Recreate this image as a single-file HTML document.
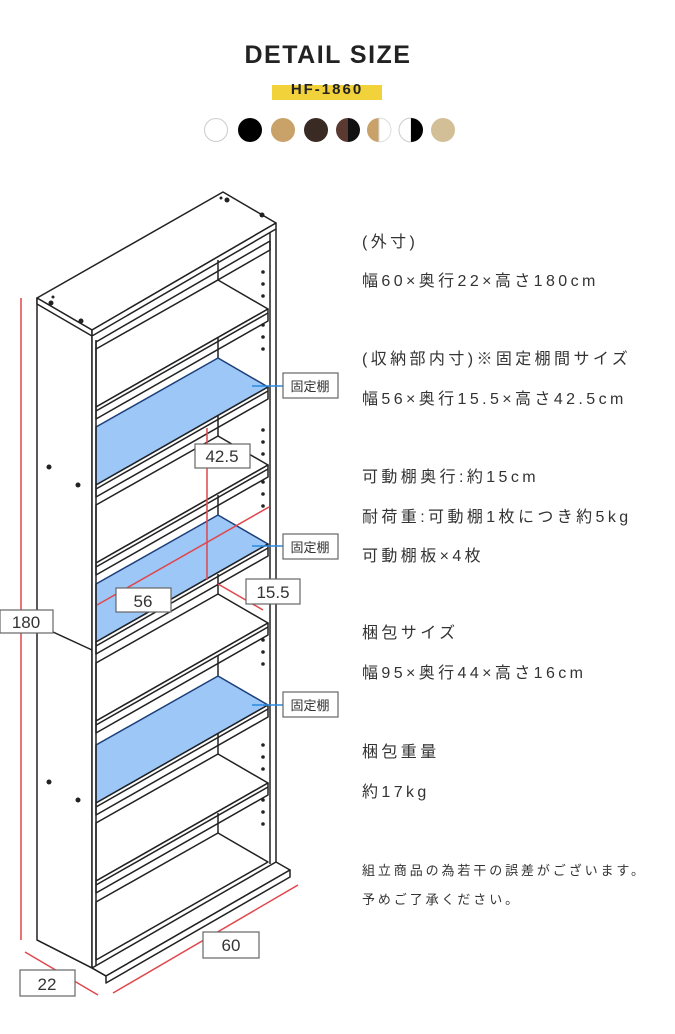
<!DOCTYPE html>
<html><head><meta charset="utf-8">
<style>
html,body{margin:0;padding:0;background:#fff;}
body{width:675px;height:1034px;position:relative;overflow:hidden;font-family:"Liberation Sans","Noto Sans CJK JP",sans-serif;color:#333;}
.t{position:absolute;left:362px;font-size:16px;line-height:20px;white-space:nowrap;letter-spacing:3.4px;}
.s{font-size:13px;letter-spacing:2.9px;}
</style></head><body>
<div style="position:absolute;left:0;width:656px;top:41px;text-align:center;font-size:25px;font-weight:bold;letter-spacing:1.5px;color:#222;">DETAIL SIZE</div>
<div style="position:absolute;left:272px;top:85px;width:110px;height:15px;background:#f1d23a;"></div>
<div style="position:absolute;left:272px;width:110px;top:81px;text-align:center;font-size:15px;font-weight:bold;letter-spacing:2px;color:#222;">HF-1860</div>
<svg width="675" height="1034" style="position:absolute;left:0;top:0" id="sv">
<g>
<circle cx="216" cy="130" r="11.5" fill="#fff" stroke="#ccc"/>
<circle cx="250" cy="130" r="12" fill="#000"/>
<circle cx="283" cy="130" r="12" fill="#c9a26a"/>
<circle cx="316" cy="130" r="12" fill="#3a2a24"/>
<path d="M348 118 A12 12 0 0 0 348 142Z" fill="#5a3a30"/><path d="M348 118 A12 12 0 0 1 348 142Z" fill="#111"/>
<path d="M379 118 A12 12 0 0 0 379 142Z" fill="#c9a26a"/><path d="M379 118 A12 12 0 0 1 379 142Z" fill="#fff" stroke="#ddd"/>
<path d="M411 118 A12 12 0 0 0 411 142Z" fill="#fff" stroke="#ccc"/><path d="M411 118 A12 12 0 0 1 411 142Z" fill="#000"/>
<circle cx="443" cy="130" r="12" fill="#d3bf97"/>
</g>
<g id="case" stroke="#222" stroke-width="1.5" fill="#fff" stroke-linejoin="round">
<polygon points="37,298 92,330 92,968 37,940"/>
<line x1="53" y1="632" x2="92" y2="650"/>
<polygon points="37,298 223,192 276,223 92,330"/>
<polygon points="37,298 92,330 92,336 37,304"/>
<polygon points="92,330 276,223 276,229 92,336"/>
<rect x="92" y="336" width="184" height="630" fill="#fff" stroke="none"/>
<polygon points="92,968 276,862 290,870 106,976"/>
<polygon points="106,976 290,870 290,877 106,983"/>
<line x1="92" y1="968" x2="106" y2="976"/>
<line x1="37" y1="940" x2="92" y2="968"/>
<polygon points="96,342 270,241 270,250 96,350"/>
</g>
<g id="shelves" stroke="#222" stroke-width="1.5" stroke-linejoin="round"></g>
<g stroke="#222" stroke-width="1.5" fill="none">
<line x1="92" y1="336" x2="92" y2="968"/><line x1="96" y1="340" x2="96" y2="966"/>
<line x1="270" y1="232" x2="270" y2="864"/><line x1="276" y1="229" x2="276" y2="862"/>
</g>
<g fill="#222">
<circle cx="49" cy="467" r="2.5"/><circle cx="78" cy="485" r="2.5"/>
<circle cx="49" cy="782" r="2.5"/><circle cx="78" cy="800" r="2.5"/>
<circle cx="51" cy="303" r="2.5"/><circle cx="81" cy="321" r="2.5"/><circle cx="53" cy="297" r="1.5"/>
<circle cx="227" cy="200" r="2.5"/><circle cx="262" cy="215" r="2.5"/><circle cx="221" cy="198" r="1.5"/>
<g id="holes"></g>
</g>
<g stroke="#e0474c" stroke-width="1.5">
<line x1="21" y1="298" x2="21" y2="940"/>
<line x1="25" y1="952" x2="98" y2="995"/>
<line x1="113" y1="993" x2="298" y2="885"/>
<line x1="97" y1="605" x2="269" y2="507"/>
<line x1="218" y1="584" x2="263" y2="610"/>
<line x1="207" y1="428" x2="207" y2="580"/>
</g>
<g stroke="#2a8ae0" stroke-width="1.5">
<line x1="252" y1="386" x2="283" y2="386"/>
<line x1="252" y1="546" x2="283" y2="546"/>
<line x1="252" y1="705" x2="283" y2="705"/>
</g>
<g stroke="#666" stroke-width="1.2" fill="#fff">
<rect x="0" y="610" width="53" height="23"/>
<rect x="20" y="970" width="55" height="26"/>
<rect x="203" y="932" width="56" height="26"/>
<rect x="116" y="588" width="55" height="24"/>
<rect x="246" y="579" width="54" height="25"/>
<rect x="195" y="444" width="55" height="24"/>
<rect x="283" y="373" width="55" height="25"/>
<rect x="283" y="534" width="55" height="25"/>
<rect x="283" y="692" width="55" height="25"/>
</g>
<g fill="#333" font-size="17" text-anchor="middle" font-family="Liberation Sans, sans-serif">
<text x="26" y="628">180</text>
<text x="47" y="990">22</text>
<text x="231" y="951">60</text>
<text x="143" y="607">56</text>
<text x="273" y="598">15.5</text>
<text x="222" y="462">42.5</text>
</g>
<g fill="#333" font-size="13" text-anchor="middle" font-family="Liberation Sans, Noto Sans CJK JP, sans-serif">
<text x="310" y="391">固定棚</text>
<text x="310" y="552">固定棚</text>
<text x="310" y="710">固定棚</text>
</g>
</svg>
<div class="t" style="top:233px">(外寸)</div>
<div class="t" style="top:272px">幅60×奥行22×高さ180cm</div>
<div class="t" style="top:350px">(収納部内寸)※固定棚間サイズ</div>
<div class="t" style="top:390px">幅56×奥行15.5×高さ42.5cm</div>
<div class="t" style="top:468px">可動棚奥行:約15cm</div>
<div class="t" style="top:508px">耐荷重:可動棚1枚につき約5kg</div>
<div class="t" style="top:547px">可動棚板×4枚</div>
<div class="t" style="top:624px">梱包サイズ</div>
<div class="t" style="top:664px">幅95×奥行44×高さ16cm</div>
<div class="t" style="top:743px">梱包重量</div>
<div class="t" style="top:783px">約17kg</div>
<div class="t s" style="top:861px">組立商品の為若干の誤差がございます。</div>
<div class="t s" style="top:890px">予めご了承ください。</div>
<script>
var NS="http://www.w3.org/2000/svg";
var g=document.getElementById("shelves");
function el(n,a){var e=document.createElementNS(NS,n);for(var k in a)e.setAttribute(k,a[k]);g.appendChild(e);return e;}
var S=[[407,0],[485,1],[563,0],[642,1],[721,0],[803,1],[881,0],[960,0]];
S.forEach(function(s){
var Y=s[0],b=s[1];
el("line",{x1:218,y1:Y-127,x2:218,y2:Y-147,stroke:"#222"});
el("polygon",{points:"96,"+(Y-58)+" 218,"+(Y-127)+" 268,"+(Y-98)+" 96,"+Y,fill:b?"#9cc7f6":"#fff",stroke:b?"#1d3f7a":"#222"});
if(Y<950){
el("polygon",{points:"96,"+Y+" 268,"+(Y-98)+" 268,"+(Y-86)+" 96,"+(Y+12),fill:"#fff",stroke:"#222"});
el("line",{x1:96,y1:Y+4,x2:268,y2:Y-94,stroke:"#222"});
}
});
var h=document.getElementById("holes");
[272,284,296,325,337,349,430,442,454,482,494,506,640,652,664,745,757,769,800,812,824].forEach(function(y){
var c=document.createElementNS(NS,"circle");c.setAttribute("cx",263);c.setAttribute("cy",y);c.setAttribute("r",1.8);h.appendChild(c);});
</script>
</body></html>
